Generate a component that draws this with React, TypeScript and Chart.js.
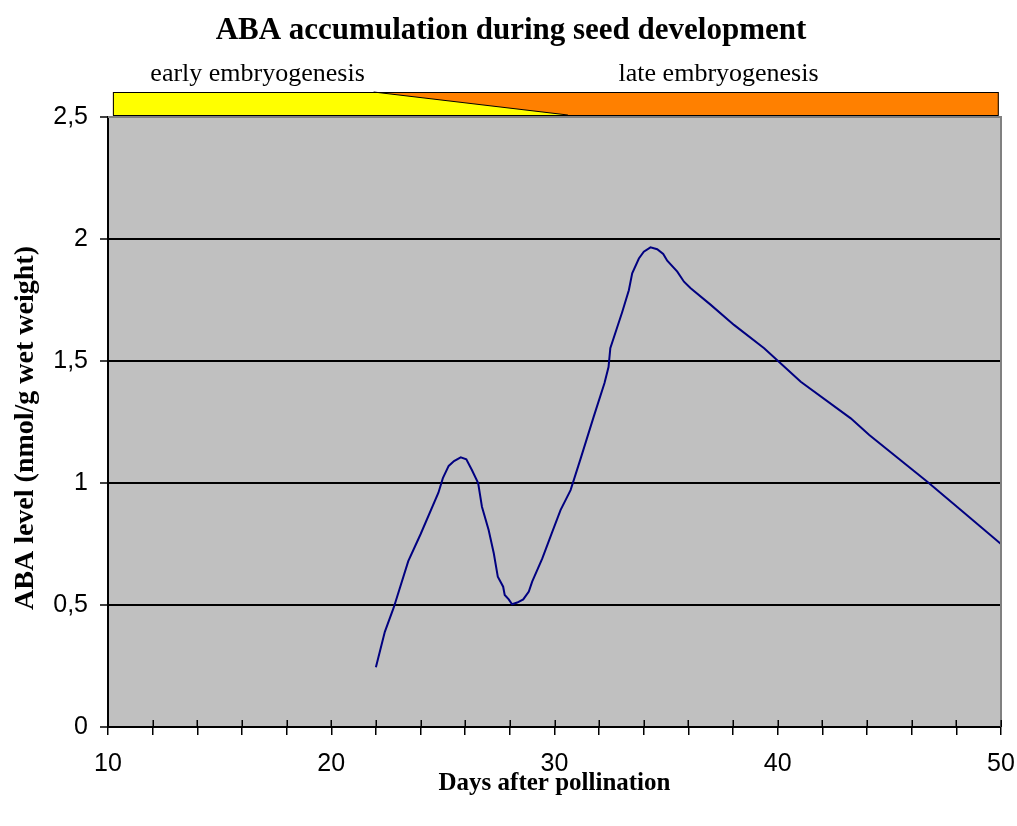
import React, { useEffect, useRef } from "react";
import { Chart, registerables } from "chart.js";

Chart.register(...registerables);

const chartTitle = "ABA accumulation during seed development";
const xAxisTitle = "Days after pollination";
const yAxisTitle = "ABA level (nmol/g wet weight)";

const days = [
  22.0, 22.4, 22.8, 23.45, 23.8, 24.0, 24.8, 25.0, 25.26, 25.5, 25.8, 26.05, 26.3, 26.58, 26.75,
  27.05, 27.28, 27.46, 27.7, 27.77, 27.95, 28.1, 28.33, 28.6, 28.85, 29.0, 29.45, 29.9, 30.27,
  30.72, 31.17, 31.75, 32.24, 32.42, 32.5, 33.03, 33.33, 33.48, 33.78, 34.0, 34.3, 34.6, 34.87,
  35.05, 35.5, 35.8, 36.1, 37.0, 38.04, 39.39, 41.03, 43.27, 44.1, 46.7, 48.2, 50.0,
];
const abaLevels = [
  0.245, 0.39, 0.49, 0.68, 0.75, 0.79, 0.96, 1.02, 1.07, 1.09, 1.105, 1.097, 1.053, 1.0, 0.903,
  0.807, 0.712, 0.616, 0.575, 0.541, 0.523, 0.503, 0.51, 0.523, 0.555, 0.596, 0.69, 0.8, 0.889,
  0.971, 1.1, 1.27, 1.41, 1.475, 1.552, 1.7, 1.79, 1.859, 1.92, 1.948, 1.966, 1.958, 1.939,
  1.911, 1.866, 1.825, 1.798, 1.73, 1.648, 1.552, 1.415, 1.265, 1.197, 1.005, 0.889, 0.75,
];

// development phase banner (in days)
const phaseLabels = ["early embryogenesis", "late embryogenesis"];
const phaseLabelDays = [16.7, 37.35];
const phaseStart = 10.22;
const phaseSplitTop = 21.9;
const phaseSplitBottom = 30.6;
const phaseEnd = 49.9;

const SERIF = '"Liberation Serif", "Times New Roman", serif';
const SANS = '"Liberation Sans", Arial, sans-serif';

const decorPlugin = {
  id: "decor",
  beforeDraw(chart: any) {
    const { ctx, chartArea: a } = chart;
    ctx.save();
    ctx.fillStyle = "#c0c0c0";
    ctx.fillRect(a.left, a.top, a.right - a.left, a.bottom - a.top);
    ctx.restore();
  },
  afterDraw(chart: any) {
    const { ctx, chartArea: a } = chart;
    const xs = chart.scales.x;
    ctx.save();
    // top & right plot border
    ctx.strokeStyle = "#808080";
    ctx.lineWidth = 2;
    ctx.beginPath();
    ctx.moveTo(a.left, a.top);
    ctx.lineTo(a.right, a.top);
    ctx.lineTo(a.right, a.bottom);
    ctx.stroke();

    // inner half of x tick marks
    ctx.strokeStyle = "#000";
    ctx.lineWidth = 1.5;
    for (const t of xs.ticks) {
      const px = Math.round(xs.getPixelForValue(t.value)) + 0.25;
      ctx.beginPath();
      ctx.moveTo(px, a.bottom);
      ctx.lineTo(px, a.bottom - 7);
      ctx.stroke();
    }

    // phase banner
    const top = 92;
    const bot = 115;
    const l = xs.getPixelForValue(phaseStart);
    const r = xs.getPixelForValue(phaseEnd);
    const st = xs.getPixelForValue(phaseSplitTop);
    const sb = xs.getPixelForValue(phaseSplitBottom);
    ctx.fillStyle = "#ff8000";
    ctx.fillRect(l, top, r - l, bot - top);
    ctx.fillStyle = "#ffff00";
    ctx.beginPath();
    ctx.moveTo(l, top);
    ctx.lineTo(st, top);
    ctx.lineTo(sb, bot);
    ctx.lineTo(l, bot);
    ctx.closePath();
    ctx.fill();
    ctx.strokeStyle = "#000";
    ctx.lineWidth = 1;
    ctx.beginPath();
    ctx.moveTo(st, top);
    ctx.lineTo(sb, bot);
    ctx.stroke();
    ctx.strokeRect(l + 0.5, top + 0.5, r - l - 1, bot - top);

    // texts
    ctx.fillStyle = "#000";
    ctx.textAlign = "center";
    ctx.textBaseline = "middle";
    ctx.font = `bold 31px ${SERIF}`;
    ctx.fillText(chartTitle, 511, 31);
    ctx.font = `26px ${SERIF}`;
    phaseLabels.forEach((lab, i) => {
      ctx.fillText(lab, xs.getPixelForValue(phaseLabelDays[i]), 74);
    });
    ctx.font = `bold 25px ${SERIF}`;
    ctx.fillText(xAxisTitle, (a.left + a.right) / 2, 784);
    ctx.translate(26, 428);
    ctx.rotate(-Math.PI / 2);
    ctx.font = `bold 28px ${SERIF}`;
    ctx.fillText(yAxisTitle, 0, 0);
    ctx.restore();
  },
};

export default function App() {
  const ref = useRef<HTMLCanvasElement>(null);
  useEffect(() => {
    document.body.style.margin = "0";
    const chart = new Chart(ref.current!, {
      type: "scatter",
      data: {
        datasets: [
          {
            data: days.map((d, i) => ({ x: d, y: abaLevels[i] })),
            showLine: true,
            borderColor: "#000080",
            borderWidth: 2,
            pointRadius: 0,
            tension: 0,
          },
        ],
      },
      options: {
        animation: false,
        responsive: false,
        layout: { padding: { top: 117, right: 16, left: 0, bottom: 0 } },
        plugins: { legend: { display: false }, tooltip: { enabled: false }, title: { display: false } },
        scales: {
          x: {
            type: "linear",
            min: 10,
            max: 50,
            afterFit: (s: any) => {
              s.height = 99;
              s.paddingLeft = 0;
              s.paddingRight = 0;
            },
            ticks: {
              stepSize: 2,
              autoSkip: false,
              maxRotation: 0,
              padding: 14,
              color: "#000",
              font: { family: SANS, size: 25 },
              callback: (v: any) => (Number(v) % 10 === 0 ? String(v) : ""),
            },
            grid: { drawOnChartArea: false, drawTicks: true, tickLength: 8, color: "#000", lineWidth: 1.5 },
            border: { display: true, color: "#000", width: 2 },
          },
          y: {
            type: "linear",
            min: 0,
            max: 2.5,
            afterFit: (s: any) => {
              s.width = 108;
              s.paddingTop = 0;
              s.paddingBottom = 0;
            },
            ticks: {
              stepSize: 0.5,
              padding: 12,
              color: "#000",
              font: { family: SANS, size: 25 },
              callback: (v: any) => String(v).replace(".", ","),
            },
            grid: { color: "#000", lineWidth: 2, tickLength: 8, tickColor: "#000", tickWidth: 1.5 },
            border: { display: true, color: "#000", width: 2 },
          },
        },
      },
      plugins: [decorPlugin],
    });
    return () => chart.destroy();
  }, []);
  return (
    <div style={{ width: 1017, height: 826, background: "#fff" }}>
      <canvas ref={ref} width={1017} height={826} style={{ display: "block" }} />
    </div>
  );
}
